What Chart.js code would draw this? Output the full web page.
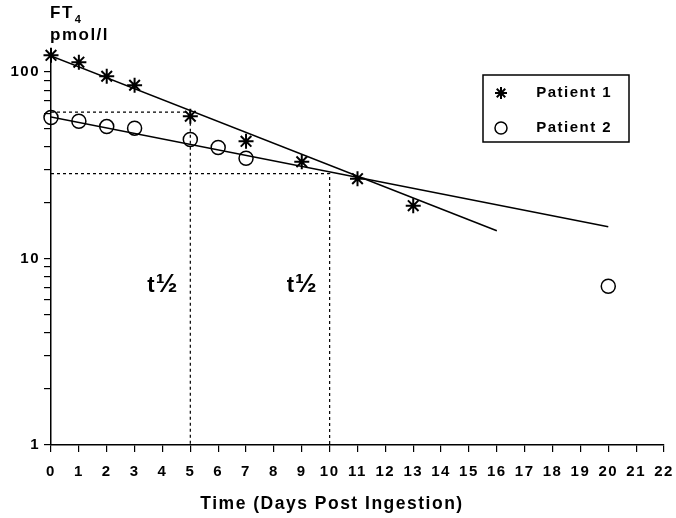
<!DOCTYPE html>
<html lang="en">

<head>
  <meta charset="UTF-8" />
  <title>FT4 decay</title>
  <script src="https://cdn.jsdelivr.net/npm/chart.js"></script>
  <style>
    body { margin: 0; background: #fff; }
    .grafico { width: 676px; height: 518px; }
  </style>
</head>

<body>
  <div class="grafico">
    <canvas id="myChart"></canvas>
  </div>

  <script>
    // values
    const diasPaciente1 = [0, 1, 2, 3, 5, 7, 9, 11, 13];
    const ft4Paciente1 = [123, 113, 95, 85, 58, 42.5, 33, 26.8, 19.2];
    const diasPaciente2 = [0, 1, 2, 3, 5, 6, 7, 20];
    const ft4Paciente2 = [57, 54.5, 51, 50, 43.5, 39.4, 34.5, 7.1];

    // regression lines (start / end)
    const diasReta1 = [0, 16];
    const ft4Reta1 = [122, 14.1];
    const diasReta2 = [0, 20];
    const ft4Reta2 = [57.5, 14.8];

    // half-life guides
    const diasMeiaVida = [5, 10];
    const niveisMeiaVida = [61, 28.5];

    const xTicks = [0, 1, 2, 3, 4, 5, 6, 7, 8, 9, 10, 11, 12, 13, 14, 15, 16, 17, 18, 19, 20, 21, 22];
    const yTicks = [1, 2, 3, 4, 5, 6, 7, 8, 9, 10, 20, 30, 40, 50, 60, 70, 80, 90, 100];
    const yLabels = [1, 10, 100];
    const nomes = ['Patient 1', 'Patient 2'];

    function pontos(xs, ys) {
      return xs.map((x, i) => ({ x: x, y: ys[i] }));
    }

    function guia(dia, nivel) {
      return [{ x: 0, y: nivel }, { x: dia, y: nivel }, { x: dia, y: 1 }];
    }

    Chart.defaults.font.family = '"Liberation Sans", Arial, sans-serif';
    Chart.defaults.font.weight = 'bold';
    Chart.defaults.color = '#000';

    const ctx = document.getElementById('myChart');

    // texts and legend frame that chart.js has no option for
    const extras = {
      id: 'extras',
      beforeLayout(chart) { chart.ctx.letterSpacing = '1.5px'; },
      beforeDraw(chart) { chart.ctx.letterSpacing = '1.5px'; },
      afterLayout(chart) {
        const lg = chart.legend;
        lg.left = 476; lg.top = 65.5;
        lg.width = 160; lg.height = 100;
        lg.right = lg.left + lg.width; lg.bottom = lg.top + lg.height;
      },
      afterDraw(chart) {
        const c = chart.ctx;
        const x = chart.scales.x, y = chart.scales.y;
        const esq = chart.chartArea.left - 1;
        c.save();
        c.fillStyle = '#000';
        c.letterSpacing = '1.5px';
        c.textBaseline = 'alphabetic';
        c.textAlign = 'left';
        c.font = 'bold 17px "Liberation Sans", Arial';
        c.fillText('FT', esq, 17.5);
        const w = c.measureText('FT').width;
        c.font = 'bold 11px "Liberation Sans", Arial';
        c.fillText('4', esq + w + 1, 23);
        c.font = 'bold 17px "Liberation Sans", Arial';
        c.fillText('pmol/l', esq, 39.5);

        // t 1/2 next to each guide
        c.textAlign = 'right';
        c.letterSpacing = '0px';
        diasMeiaVida.forEach(d => {
          const xr = x.getPixelForValue(d) - 13;
          const base = y.getPixelForValue(6.6);
          c.font = 'bold 26px "Liberation Sans", Arial';
          c.fillText('\u00BD', xr, base);
          const wm = c.measureText('\u00BD').width;
          c.font = 'bold 22px "Liberation Sans", Arial';
          c.fillText('t', xr - wm - 1, base);
        });

        const lg = chart.legend;
        c.strokeStyle = '#000';
        c.lineWidth = 1.5;
        c.strokeRect(lg.left + 7, lg.top + 9.5, 146, 67);
        c.restore();
      }
    };

    new Chart(ctx, {
      type: 'scatter',
      data: {
        datasets: [
          {
            label: nomes[0],
            data: pontos(diasPaciente1, ft4Paciente1),
            pointStyle: 'star',
            pointRadius: 7.5,
            borderColor: '#000',
            backgroundColor: '#000',
            borderWidth: 2,
            clip: false
          },
          {
            label: nomes[1],
            data: pontos(diasPaciente2, ft4Paciente2),
            pointStyle: 'circle',
            pointRadius: 7,
            borderColor: '#000',
            backgroundColor: 'rgba(0,0,0,0)',
            borderWidth: 1.5,
            clip: false
          },
          {
            type: 'line', label: 'fit1', data: pontos(diasReta1, ft4Reta1),
            borderColor: '#000', borderWidth: 1.5, pointRadius: 0
          },
          {
            type: 'line', label: 'fit2', data: pontos(diasReta2, ft4Reta2),
            borderColor: '#000', borderWidth: 1.5, pointRadius: 0
          },
          {
            type: 'line', label: 'guia1', data: guia(diasMeiaVida[0], niveisMeiaVida[0]),
            borderColor: '#000', borderWidth: 1.2, borderDash: [3, 3], pointRadius: 0
          },
          {
            type: 'line', label: 'guia2', data: guia(diasMeiaVida[1], niveisMeiaVida[1]),
            borderColor: '#000', borderWidth: 1.2, borderDash: [3, 3], pointRadius: 0
          }
        ]
      },
      options: {
        responsive: true,
        maintainAspectRatio: false,
        animation: false,
        layout: { padding: { left: 0, right: 12, top: 54, bottom: 3.5 } },
        scales: {
          x: {
            type: 'linear',
            min: 0,
            max: 22,
            afterBuildTicks: (s) => { s.ticks = xTicks.map(v => ({ value: v })); },
            afterFit: (s) => { s.height = 48.5; s.paddingRight = 4; s.paddingLeft = 4; },
            ticks: { autoSkip: false, maxRotation: 0, padding: 11, font: { size: 15 } },
            grid: { drawOnChartArea: false, tickLength: 7, color: '#000', lineWidth: 1.2 },
            border: { color: '#000', width: 1.5 }
          },
          y: {
            type: 'logarithmic',
            min: 1,
            max: 125,
            afterBuildTicks: (s) => { s.ticks = yTicks.map(v => ({ value: v })); },
            afterFit: (s) => { s.width = 51; },
            ticks: {
              autoSkip: false,
              padding: 4,
              font: { size: 15 },
              callback: (v) => yLabels.includes(v) ? String(v) : ''
            },
            grid: { drawOnChartArea: false, tickLength: 7, color: '#000', lineWidth: 1.2 },
            border: { color: '#000', width: 1.5 }
          }
        },
        plugins: {
          legend: {
            position: 'chartArea',
            align: 'start',
            labels: {
              filter: (item) => item.datasetIndex < nomes.length,
              generateLabels: (chart) => {
                const base = Chart.defaults.plugins.legend.labels.generateLabels(chart);
                return base.map(it => Object.assign(it, { text: '    ' + it.text }));
              },
              usePointStyle: true,
              boxWidth: 10,
              boxHeight: 8.5,
              padding: 20,
              color: '#000',
              font: { size: 15 }
            }
          },
          title: {
            display: true,
            position: 'bottom',
            text: 'Time (Days Post Ingestion)',
            color: '#000',
            padding: { top: 0, bottom: 0 },
            font: { size: 17.5 }
          },
          tooltip: { enabled: false }
        }
      },
      plugins: [extras]
    });
  </script>
</body>

</html>
